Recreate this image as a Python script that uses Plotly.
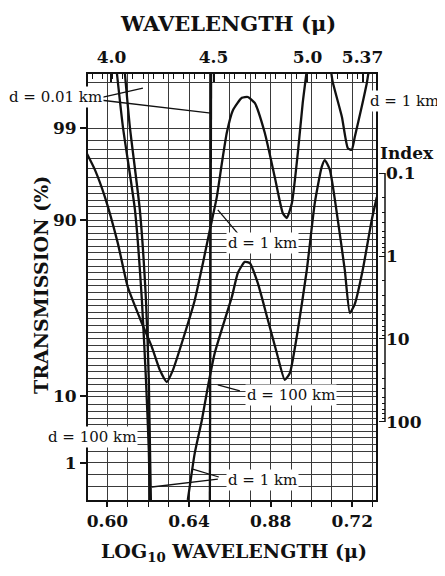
import numpy as np
import plotly.graph_objects as go

# ---------------- axis labels / tick data ----------------
# top axis: wavelength (micron) labels and where they sit on the log10 axis
top_tick_text = ["4.0", "4.5", "5.0", "5.37"]
top_tick_pos = [0.602, 0.652, 0.698, 0.725]

# bottom axis: log10 wavelength (labels as printed)
bottom_tick_pos = [0.60, 0.64, 0.68, 0.72]
bottom_tick_text = ["0.60", "0.64", "0.88", "0.72"]

# left axis: transmission (%) on a probability-like scale (0-100 scale units)
trans_tick_pos = [87.3, 65.7, 24.4, 8.7]
trans_tick_text = ["99", "90", "10", "1"]

# right "Index" scale
index_ticks = [0.1, 1, 10, 100]
index_tick_text = ["0.1", "1", "10", "100"]

# ---------------- curves (x = log10 wavelength, y = scale units) ----------------
d1_x = [0.5890, 0.5939, 0.5988, 0.6051, 0.6100, 0.6169, 0.6218, 0.6257, 0.6291,
        0.6321, 0.6380, 0.6428, 0.6468, 0.6502, 0.6536, 0.6561, 0.6585, 0.6615,
        0.6659, 0.6688, 0.6722, 0.6771, 0.6820, 0.6859, 0.6879, 0.6904, 0.6933,
        0.6957, 0.6977, None,
        0.7095, 0.7104, 0.7149, 0.7178, 0.7197, 0.7212, 0.7246, 0.7271, 0.7281]
d1_y = [82.2, 77.5, 71.1, 60.3, 50.0, 41.5, 35.9, 30.5, 27.7,
        30.5, 39.2, 46.9, 55.6, 63.4, 71.1, 79.1, 86.2, 91.5,
        94.4, 94.6, 93.2, 86.2, 75.8, 67.4, 66.2, 69.7, 81.5,
        93.2, 100.9, None,
        100.9, 98.1, 89.9, 82.6, 82.2, 85.2, 92.3, 97.9, 100.9]

d100_x = [0.6394, 0.6428, 0.6463, 0.6492, 0.6526, 0.6575, 0.6610, 0.6639, 0.6673,
          0.6698, 0.6737, 0.6786, 0.6830, 0.6869, 0.6894, 0.6933, 0.6977, 0.7016,
          0.7050, 0.7065, 0.7090, 0.7129, 0.7163, 0.7188, 0.7212, 0.7251, 0.7295,
          0.7320]
d100_y = [0.0, 11.0, 18.8, 26.5, 34.5, 42.3, 47.7, 53.3, 55.9,
          55.6, 50.9, 42.3, 34.5, 28.2, 29.8, 39.9, 54.0, 69.7,
          78.2, 79.8, 77.5, 65.7, 54.0, 43.9, 46.0, 54.0, 65.7,
          71.1]

d100_left_x = [0.6086, 0.6110, 0.6159, 0.6189, 0.6203, 0.6213]
d100_left_y = [100.0, 87.6, 68.1, 46.9, 28.2, 0.0]

d001_x = [0.6047, 0.6076, 0.6135, 0.6169, 0.6189, 0.6203, 0.6208, None, 0.6502, 0.6508]
d001_y = [100.0, 87.6, 68.1, 46.9, 28.2, 11.7, 0.0, None, 0.0, 100.0]

INK = "#111111"
GRID = "#3a3a3a"
SERIF = "DejaVu Serif"

fig = go.Figure()
for xs, ys in [(d1_x, d1_y), (d100_x, d100_y), (d100_left_x, d100_left_y), (d001_x, d001_y)]:
    fig.add_trace(go.Scatter(x=xs, y=ys, mode="lines",
                             line=dict(color=INK, width=2.3, shape="spline", smoothing=0.5),
                             connectgaps=False, hoverinfo="skip"))

# invisible anchors so the secondary axes are drawn
fig.add_trace(go.Scatter(x=[0.65], y=[50], xaxis="x2", mode="markers",
                         marker=dict(opacity=0), hoverinfo="skip"))
fig.add_trace(go.Scatter(x=[0.65], y=[0], yaxis="y2", mode="markers",
                         marker=dict(opacity=0), hoverinfo="skip"))

# grid line positions (styling)
x_minor = [round(v, 3) for v in np.arange(0.60, 0.735, 0.01) if min(abs(v - t) for t in bottom_tick_pos) > 1e-6]
y_grid = [97.9] + list(np.linspace(84.5, 75.6, 5)) + list(np.arange(73.5, 11.0, -1.55)) + [5.9, 3.1]
y_grid = [round(v, 2) for v in y_grid if min(abs(v - t) for t in trans_tick_pos) > 0.6]
x_top_minor = [round(v, 4) for v in np.arange(0.5925, 0.7316, 0.005)]
idx_minor = [float(np.log10(k * 10.0 ** d)) for d in (-1, 0, 1) for k in range(2, 10)]

# page body adds an 8px offset; the figure is sized so it fills the window
PAPER_W = 332
XDOM = 288 / PAPER_W
IDX_POS = 297 / PAPER_W
tickfont = dict(family=SERIF, size=17, color=INK, weight="bold")

fig.update_layout(
    width=437, height=568,
    margin=dict(l=80, r=25, t=66, b=76, autoexpand=False),
    paper_bgcolor="white", plot_bgcolor="rgba(0,0,0,0)",
    showlegend=False,
    font=dict(family=SERIF, color=INK),
    xaxis=dict(domain=[0, XDOM], range=[0.5905, 0.7316], tickmode="array",
               tickvals=bottom_tick_pos, ticktext=bottom_tick_text,
               ticks="outside", ticklen=5, tickwidth=1.5, tickcolor=INK,
               showgrid=True, gridcolor=GRID, gridwidth=1.3, automargin=False,
               minor=dict(tickmode="array", tickvals=x_minor, showgrid=True,
                          gridcolor=GRID, gridwidth=1.3, ticks="outside",
                          ticklen=5, tickwidth=1.2, tickcolor=INK),
               showline=True, linecolor=INK, linewidth=2, mirror=True,
               zeroline=False, tickfont=tickfont),
    xaxis2=dict(overlaying="x", side="top", anchor="y", range=[0.5905, 0.7316],
                tickmode="array", tickvals=top_tick_pos, ticktext=top_tick_text,
                ticks="inside", ticklen=8, tickwidth=1.5, tickcolor=INK,
                ticklabelstandoff=2, automargin=False,
                minor=dict(tickmode="array", tickvals=x_top_minor, ticks="inside",
                           ticklen=5, tickwidth=1, tickcolor=INK, showgrid=False),
                showgrid=False, showline=True, linecolor=INK, linewidth=2,
                zeroline=False, tickfont=tickfont),
    yaxis=dict(range=[0, 100], tickmode="array", tickvals=trans_tick_pos,
               ticktext=trans_tick_text, ticks="outside", ticklen=6, tickwidth=1.5,
               tickcolor=INK, showgrid=True, gridcolor=GRID, gridwidth=1.3,
               automargin=False,
               minor=dict(tickmode="array", tickvals=y_grid, showgrid=True,
                          gridcolor=GRID, gridwidth=1.1, ticks=""),
               showline=True, linecolor=INK, linewidth=2, mirror=True,
               zeroline=False, tickfont=tickfont),
    yaxis2=dict(overlaying="y", side="right", anchor="free", position=IDX_POS,
                range=[2.940, -2.193], tickmode="array",
                tickvals=[float(np.log10(v)) for v in index_ticks],
                ticktext=index_tick_text, ticks="inside", ticklen=6, tickwidth=1.3,
                tickcolor=INK, automargin=False,
                minor=dict(tickmode="array", tickvals=idx_minor, ticks="inside",
                           ticklen=3, tickwidth=1, tickcolor=INK),
                showgrid=False, showline=False, zeroline=False, tickfont=tickfont),
)

# index axis line between 0.1 and 100
fig.add_shape(type="line", xref="paper", yref="y2", x0=IDX_POS, x1=IDX_POS,
              y0=float(np.log10(index_ticks[0])), y1=float(np.log10(index_ticks[-1])),
              line=dict(color=INK, width=1.5))

# leader lines: (x on curve, y on curve, x at label, y at label)
leaders = [
    (0.6174, 96.7, 0.5963, 94.4),
    (0.6507, 90.8, 0.5963, 93.9),
    (0.6541, 68.1, 0.6649, 62.0),
    (0.6541, 27.0, 0.6649, 25.6),
    (0.6218, 3.05, 0.6541, 4.9),
    (0.6414, 7.3, 0.6546, 5.4),
]
for hx, hy, tx, ty in leaders:
    fig.add_shape(type="line", xref="x", yref="y", x0=hx, y0=hy, x1=tx, y1=ty,
                  line=dict(color=INK, width=1.3))

labels = [
    ("d = 0.01 km", -0.0964, 0.946),
    ("d = 1 km", 0.9548, 0.9366),
    ("d = 1 km", 0.5271, 0.6033),
    ("d = 100 km", 0.6114, 0.2465),
    ("d = 100 km", 0.012, 0.1479),
    ("d = 1 km", 0.5271, 0.0469),
]
for txt, px, py in labels:
    fig.add_annotation(x=px, y=py, xref="paper", yref="paper", text=txt,
                       showarrow=False, bgcolor="white", borderpad=1,
                       font=dict(family=SERIF, size=15, color=INK),
                       xanchor="center", yanchor="middle")

fig.add_annotation(x=0.9608, y=0.8146, xref="paper", yref="paper", text="Index",
                   showarrow=False, font=dict(family=SERIF, size=17, color=INK, weight="bold"),
                   xanchor="center", yanchor="middle")

fig.add_annotation(x=0.4217, y=1.1197, xref="paper", yref="paper",
                   text="WAVELENGTH (μ)", showarrow=False,
                   font=dict(family=SERIF, size=21, color=INK, weight="bold"),
                   xanchor="center", yanchor="middle")
fig.add_annotation(x=0.4398, y=-0.124, xref="paper", yref="paper",
                   text="LOG<sub>10</sub> WAVELENGTH (μ)", showarrow=False,
                   font=dict(family=SERIF, size=19, color=INK, weight="bold"),
                   xanchor="center", yanchor="middle")
fig.add_annotation(x=-0.1416, y=0.5047, xref="paper", yref="paper",
                   text="TRANSMISSION (%)", showarrow=False, textangle=-90,
                   font=dict(family=SERIF, size=19, color=INK, weight="bold"),
                   xanchor="center", yanchor="middle")

fig.write_html("out.html")
